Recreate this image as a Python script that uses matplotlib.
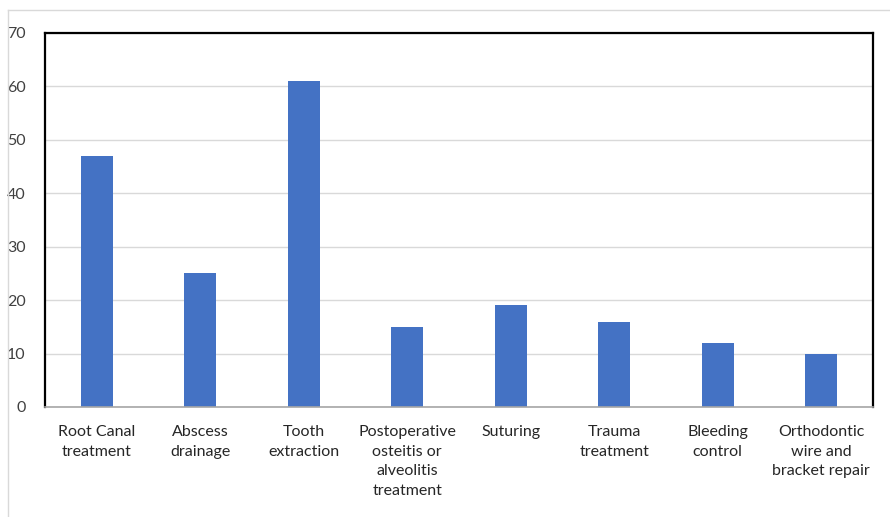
import matplotlib.pyplot as plt
from matplotlib.lines import Line2D

categories = [
    "Root Canal\ntreatment",
    "Abscess\ndrainage",
    "Tooth\nextraction",
    "Postoperative\nosteitis or\nalveolitis\ntreatment",
    "Suturing",
    "Trauma\ntreatment",
    "Bleeding\ncontrol",
    "Orthodontic\nwire and\nbracket repair",
]
values = [47, 25, 61, 15, 19, 16, 12, 10]
y_ticks = [0, 10, 20, 30, 40, 50, 60, 70]

plt.rcParams['font.family'] = ['Lato', 'DejaVu Sans']

W, H = 890, 517
fig = plt.figure(figsize=(W / 100, H / 100), dpi=100)
ax = fig.add_axes([45 / W, 1 - 407 / H, (873 - 45) / W, (407 - 33) / H])

x = list(range(len(categories)))
ax.bar(x, values, width=0.31, color="#4472C4", zorder=3)
ax.set_xlim(-0.5, len(categories) - 0.5)
ax.set_ylim(0, 70)
ax.set_yticks(y_ticks)
ax.set_yticklabels([str(v) for v in y_ticks], fontsize=11.5, color="#404040")
ax.set_xticks(x)
ax.set_xticklabels(categories, fontsize=11.5, color="#262626", linespacing=1.5, va="top")
ax.tick_params(axis="both", length=0)
ax.tick_params(axis="y", pad=14)
ax.tick_params(axis="x", pad=13)
ax.grid(axis="y", color="#D9D9D9", linewidth=1, zorder=0)

for side in ["left", "top", "right"]:
    ax.spines[side].set_color("black")
    ax.spines[side].set_linewidth(1.6)
ax.spines["bottom"].set_color("#A6A6A6")
ax.spines["bottom"].set_linewidth(1.2)
ax.spines["bottom"].set_zorder(4)

# light frame around the chart
fig.add_artist(Line2D([8 / W, 8 / W], [0, 1 - 10 / H], color="#D9D9D9", lw=1, transform=fig.transFigure))
fig.add_artist(Line2D([8 / W, 1], [1 - 10 / H, 1 - 10 / H], color="#D9D9D9", lw=1, transform=fig.transFigure))

fig.savefig("out.png", dpi=100)
